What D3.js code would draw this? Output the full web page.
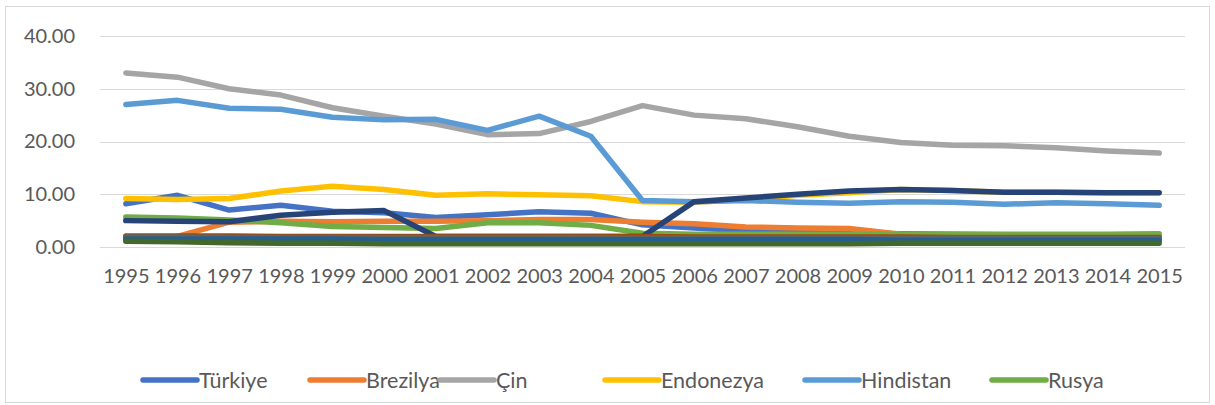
<!DOCTYPE html>
<html>
<head>
<meta charset="utf-8">
<script src="https://cdn.jsdelivr.net/npm/d3@7"></script>
<style>
  body { margin: 0; background: #fff; }
  text { font-family: Lato, "Open Sans", sans-serif; fill: #595959; }
</style>
</head>
<body>
<div id="chart-area"></div>
<script>
// years on the x axis
var years = d3.range(1995, 2016).map(String);
var yTicks = [0, 10, 20, 30, 40];

// series shown in the legend
var turkiye   = [8.2, 9.8, 7.0, 7.9, 6.8, 6.5, 5.6, 6.1, 6.7, 6.4, 4.2, 3.6, 3.1, 2.8, 2.6, 2.5, 2.4, 2.3, 2.3, 2.2, 2.2];
var brezilya  = [1.9, 2.0, 4.7, 4.9, 4.8, 4.9, 4.9, 5.0, 5.2, 5.2, 4.7, 4.4, 3.8, 3.6, 3.5, 2.4, 2.2, 2.1, 2.0, 2.0, 1.9];
var cin       = [33.0, 32.2, 30.0, 28.8, 26.4, 24.8, 23.3, 21.3, 21.5, 23.8, 26.8, 25.0, 24.3, 22.8, 21.0, 19.8, 19.3, 19.2, 18.8, 18.2, 17.8];
var endonezya = [9.2, 9.0, 9.2, 10.6, 11.5, 10.9, 9.8, 10.1, 9.9, 9.7, 8.6, 8.5, 9.0, 9.8, 10.3, 10.9, 10.7, 10.4, 10.4, 10.3, 10.3];
var hindistan = [27.0, 27.8, 26.3, 26.1, 24.6, 24.1, 24.2, 22.1, 24.8, 21.0, 8.8, 8.6, 8.8, 8.5, 8.3, 8.6, 8.5, 8.1, 8.4, 8.2, 7.9];
var rusya     = [5.7, 5.5, 5.1, 4.6, 3.9, 3.7, 3.5, 4.6, 4.6, 4.1, 2.6, 2.4, 2.4, 2.4, 2.4, 2.4, 2.4, 2.4, 2.4, 2.4, 2.5];
// series whose legend entries are cut off
var seri7  = [5.0, 4.9, 4.8, 6.0, 6.6, 6.9, 2.0, 2.0, 2.0, 2.0, 2.0, 8.6, 9.3, 10.0, 10.6, 10.9, 10.7, 10.4, 10.4, 10.3, 10.3];
var seri8  = [2.1, 2.1, 2.1, 2.0, 2.0, 2.0, 2.0, 2.0, 2.0, 2.0, 2.0, 1.9, 1.9, 1.9, 1.9, 1.9, 1.8, 1.8, 1.8, 1.8, 1.8];
var seri9  = [1.9, 1.9, 1.8, 1.8, 1.8, 1.8, 1.8, 1.8, 1.8, 1.8, 1.7, 1.7, 1.7, 1.7, 1.7, 1.7, 1.7, 1.7, 1.6, 1.6, 1.6];
var seri10 = [1.5, 1.5, 1.4, 1.4, 1.4, 1.4, 1.4, 1.4, 1.4, 1.4, 1.4, 1.4, 1.3, 1.3, 1.3, 1.3, 1.3, 1.3, 1.3, 1.3, 1.3];
var seri11 = [1.5, 1.5, 1.5, 1.5, 1.5, 1.4, 1.4, 1.4, 1.4, 1.4, 1.4, 1.4, 1.4, 1.4, 1.4, 1.3, 1.3, 1.3, 1.3, 1.3, 1.3];
var seri12 = [1.1, 1.0, 0.8, 0.7, 0.7, 0.6, 0.6, 0.6, 0.6, 0.6, 0.6, 0.6, 0.6, 0.6, 0.6, 0.7, 0.7, 0.7, 0.7, 0.7, 0.7];

var names  = ["Türkiye", "Brezilya", "Çin", "Endonezya", "Hindistan", "Rusya", "7", "8", "9", "10", "11", "12"];
var values = [turkiye, brezilya, cin, endonezya, hindistan, rusya, seri7, seri8, seri9, seri10, seri11, seri12];
var colors = ["#4472C4", "#ED7D31", "#A5A5A5", "#FFC000", "#5B9BD5", "#70AD47",
              "#264478", "#9E480E", "#636363", "#997300", "#255E91", "#43682B"];
var legendCount = 6;

var W = 1215, H = 405;
var margin = { left: 100, right: 30, top: 36, bottom: 158 };
var width = W - margin.left - margin.right,
    height = H - margin.top - margin.bottom;

var svg = d3.select("#chart-area")
    .append("svg")
    .attr("width", W)
    .attr("height", H);

// chart border
svg.append("rect")
    .attr("x", 5.5).attr("y", 6.5)
    .attr("width", 1204).attr("height", 396)
    .attr("fill", "none")
    .attr("stroke", "#d9d9d9");

var g = svg.append("g")
    .attr("transform", "translate(" + margin.left + ", " + margin.top + ")");

var x = d3.scalePoint()
    .domain(years)
    .range([0, width])
    .padding(0.5);

var y = d3.scaleLinear()
    .domain([0, 40])
    .range([height, 0]);

// gridlines
g.append("g")
    .selectAll("line")
    .data(yTicks)
    .enter().append("line")
    .attr("x1", 0).attr("x2", width)
    .attr("y1", function (d) { return Math.round(y(d)) + 0.5; })
    .attr("y2", function (d) { return Math.round(y(d)) + 0.5; })
    .attr("stroke", "#d9d9d9")
    .attr("stroke-width", 1);

var leftAxis = d3.axisLeft(y)
    .tickValues(yTicks)
    .tickFormat(d3.format(".2f"))
    .tickSize(0)
    .tickPadding(25);
var yG = g.append("g").call(leftAxis);
yG.select(".domain").remove();
yG.selectAll("text").attr("font-size", "20px").style("font-family", "Lato");

var bottomAxis = d3.axisBottom(x).tickSize(0).tickPadding(22);
var xG = g.append("g")
    .attr("transform", "translate(0, " + height + ")")
    .call(bottomAxis);
xG.select(".domain").remove();
xG.selectAll("text").attr("font-size", "20px").style("font-family", "Lato");

var line = d3.line()
    .x(function (d, i) { return x(years[i]); })
    .y(function (d) { return y(d); });

g.selectAll("path.series")
    .data(values)
    .enter().append("path")
    .attr("class", "series")
    .attr("d", line)
    .attr("fill", "none")
    .attr("stroke", function (d, i) { return colors[i]; })
    .attr("stroke-width", 5.5)
    .attr("stroke-linecap", "round")
    .attr("stroke-linejoin", "round");

// legend (only the first six entries fit)
var legendX = [143, 310, 440, 605, 805, 992];
var leg = svg.append("g").selectAll("g")
    .data(names.slice(0, legendCount))
    .enter().append("g")
    .attr("transform", function (d, i) { return "translate(" + legendX[i] + ", 380)"; });
leg.append("line")
    .attr("x1", 0).attr("x2", 54)
    .attr("stroke", function (d, i) { return colors[i]; })
    .attr("stroke-width", 5.5)
    .attr("stroke-linecap", "round");
leg.append("text")
    .attr("x", 56)
    .attr("dy", "0.35em")
    .attr("font-size", "21.5px")
    .text(function (d) { return d; });
</script>
</body>
</html>
